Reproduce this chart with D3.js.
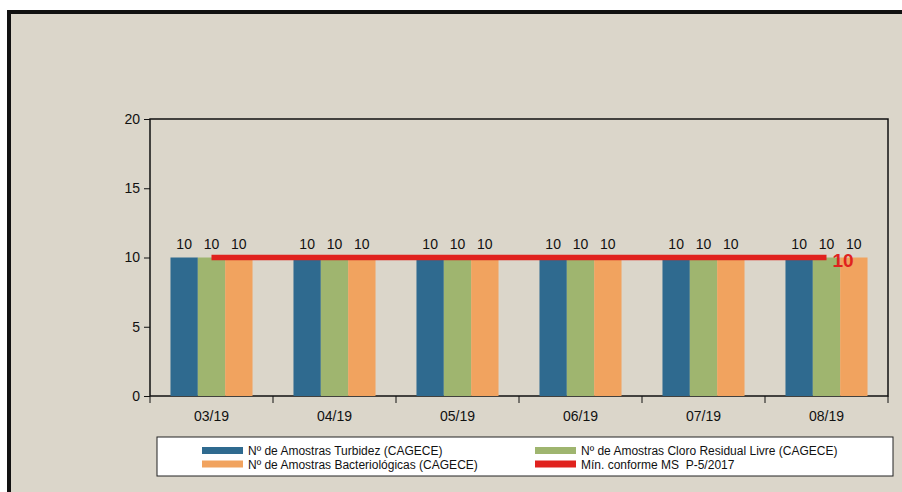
<!DOCTYPE html>
<html>
<head>
<meta charset="utf-8">
<script src="https://cdn.jsdelivr.net/npm/d3@7"></script>
<style>
body { margin: 0; background: #fff; }
text { font-family: "Liberation Sans", Arial, sans-serif; }
</style>
</head>
<body>
<div id="chart"></div>
<script>
const months = ["03/19", "04/19", "05/19", "06/19", "07/19", "08/19"]
const seriesNames = [
    "Nº de Amostras Turbidez (CAGECE)",
    "Nº de Amostras Cloro Residual Livre (CAGECE)",
    "Nº de Amostras Bacteriológicas (CAGECE)"
]
const turbidez = [10, 10, 10, 10, 10, 10]
const cloro = [10, 10, 10, 10, 10, 10]
const bacteriologicas = [10, 10, 10, 10, 10, 10]
const minConforme = [10, 10, 10, 10, 10, 10]
const minName = "Mín. conforme MS  P-5/2017"
const yTicks = [0, 5, 10, 15, 20]
const colors = ["#2f6a8f", "#9fb56f", "#f1a35f"]
const red = "#e0221e"

const W = 902, H = 492
const margin = {top: 119, left: 150}
const width = 888 - margin.left
const height = 396 - margin.top

const svg = d3.select("#chart").append("svg")
    .attr("width", W)
    .attr("height", H)

// beige page with black frame
svg.append("rect")
    .attr("x", 9).attr("y", 12)
    .attr("width", W + 10).attr("height", H + 10)
    .style("fill", "#dbd6ca")
    .style("stroke", "#111")
    .style("stroke-width", 4)

const g = svg.append("g")
    .attr("transform", `translate(${margin.left}, ${margin.top})`)

const x = d3.scaleBand()
    .domain(months)
    .range([0, width])

const x1 = d3.scaleBand()
    .domain(d3.range(3))
    .range([0, x.bandwidth() * 0.667])

const y = d3.scaleLinear()
    .domain([0, 20])
    .range([height, 0])

// plot frame
g.append("rect")
    .attr("width", width)
    .attr("height", height)
    .style("fill", "none")
    .style("stroke", "#111")
    .style("stroke-width", 1.5)

const table = months.map((m, i) => ({
    month: m,
    vals: [turbidez[i], cloro[i], bacteriologicas[i]]
}))

const off = x.bandwidth() * 0.1665
const groups = g.selectAll(".grp")
    .data(table)
    .join("g")
    .attr("transform", d => `translate(${x(d.month) + off}, 0)`)

groups.selectAll("rect")
    .data(d => d.vals.map((v, k) => ({k: k, v: v})))
    .join("rect")
    .attr("x", d => x1(d.k))
    .attr("y", d => y(d.v))
    .attr("width", x1.bandwidth())
    .attr("height", d => height - y(d.v))
    .style("fill", d => colors[d.k])

groups.selectAll("text")
    .data(d => d.vals.map((v, k) => ({k: k, v: v})))
    .join("text")
    .attr("x", d => x1(d.k) + x1.bandwidth() / 2)
    .attr("y", d => y(d.v) - 9)
    .attr("text-anchor", "middle")
    .style("font-size", "14px")
    .style("fill", "#111")
    .text(d => d.v)

// minimum line
const cx = d => x(d) + x.bandwidth() / 2
const line = d3.line()
    .x((d, i) => cx(months[i]))
    .y(d => y(d))
g.append("path")
    .datum(minConforme)
    .attr("d", line)
    .style("fill", "none")
    .style("stroke", red)
    .style("stroke-width", 5.5)

g.append("text")
    .attr("x", cx(months[months.length - 1]) + 6)
    .attr("y", y(minConforme[minConforme.length - 1]) + 9)
    .style("font-size", "19px")
    .style("font-weight", "bold")
    .style("fill", red)
    .text(minConforme[minConforme.length - 1])

// axes
const yAxis = g.append("g")
    .call(d3.axisLeft(y).tickValues(yTicks).tickSize(6).tickPadding(4))
yAxis.select(".domain").remove()
yAxis.selectAll("text").style("font-size", "14px").style("fill", "#111")
yAxis.selectAll("line").style("stroke", "#111")

const xAxis = g.append("g")
    .attr("transform", `translate(0, ${height})`)
    .call(d3.axisBottom(x).tickSize(0).tickPadding(15))
xAxis.select(".domain").remove()
xAxis.selectAll("text").style("font-size", "14px").style("fill", "#111")

g.append("g")
    .selectAll("line")
    .data(months.concat([null]))
    .join("line")
    .attr("x1", (d, i) => i * x.bandwidth())
    .attr("x2", (d, i) => i * x.bandwidth())
    .attr("y1", height)
    .attr("y2", height + 7)
    .style("stroke", "#111")

// legend
const leg = svg.append("g")
leg.append("rect")
    .attr("x", 157).attr("y", 437)
    .attr("width", 736).attr("height", 39)
    .style("fill", "#fff")
    .style("stroke", "#222")
    .style("stroke-width", 1)

const legItems = [
    {name: seriesNames[0], color: colors[0], col: 0, row: 0},
    {name: seriesNames[1], color: colors[1], col: 1, row: 0},
    {name: seriesNames[2], color: colors[2], col: 0, row: 1},
    {name: minName, color: red, col: 1, row: 1}
]
const li = leg.selectAll(".li")
    .data(legItems)
    .join("g")
    .attr("transform", d => `translate(${d.col ? 535 : 202}, ${d.row ? 464 : 450.5})`)
li.append("rect")
    .attr("x", 0).attr("y", -3.5)
    .attr("width", 41).attr("height", 7)
    .style("fill", d => d.color)
li.append("text")
    .attr("x", 46).attr("y", 4.5)
    .style("font-size", "12px")
    .style("white-space", "pre")
    .style("fill", "#111")
    .text(d => d.name)
</script>
</body>
</html>
